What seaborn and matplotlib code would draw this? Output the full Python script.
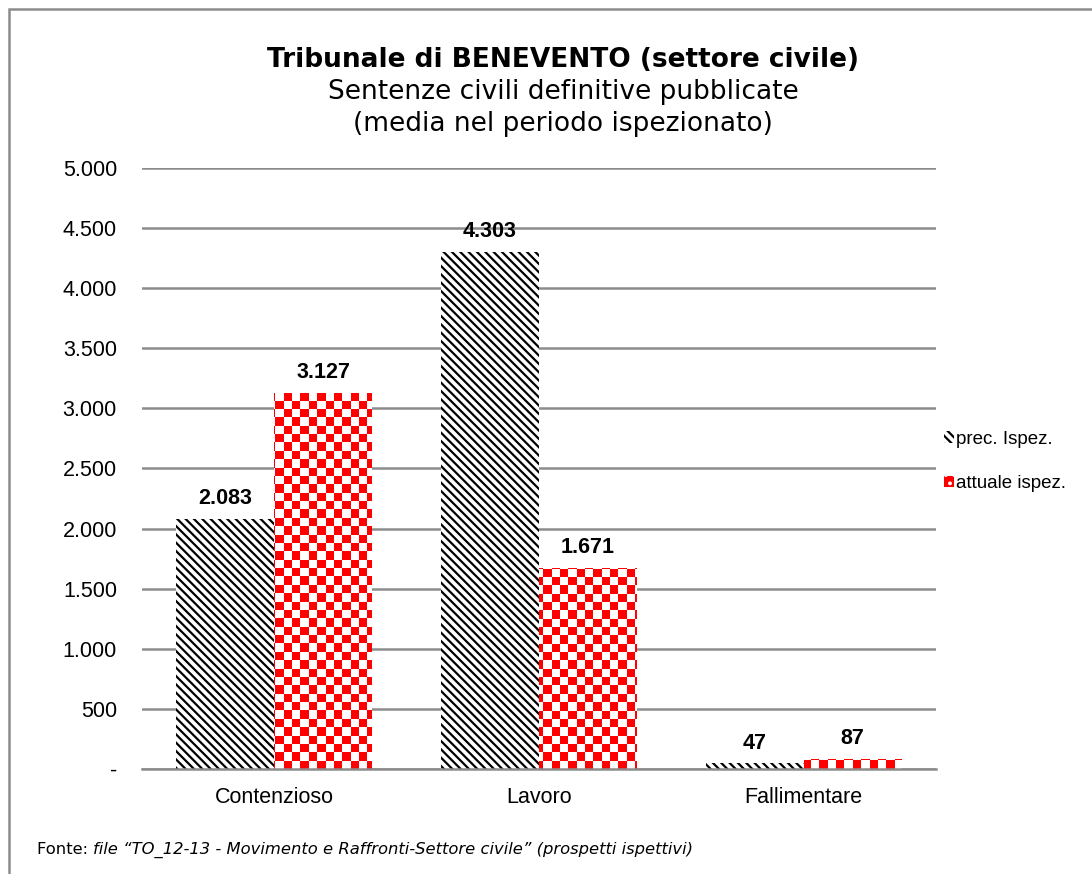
import numpy as np
import pandas as pd
import matplotlib
matplotlib.use('Agg')
import matplotlib.pyplot as plt
import seaborn as sns
from matplotlib.colors import ListedColormap
from matplotlib.patches import Patch, Rectangle

# data
categorie = ['Contenzioso', 'Lavoro', 'Fallimentare']
serie = ['prec. Ispez.', 'attuale ispez.']
prec_ispez = [2083, 4303, 47]
attuale_ispez = [3127, 1671, 87]
y_ticks = [0, 500, 1000, 1500, 2000, 2500, 3000, 3500, 4000, 4500, 5000]

df = pd.DataFrame({
    'categoria': categorie * 2,
    'serie': [serie[0]] * 3 + [serie[1]] * 3,
    'valore': prec_ispez + attuale_ispez,
})

sns.set_theme(style='white')
plt.rcParams['font.family'] = ['Liberation Sans', 'DejaVu Sans']
plt.rcParams['hatch.linewidth'] = 1.6
plt.rcParams['text.color'] = 'black'

fig = plt.figure(figsize=(10.92, 8.74), dpi=100)
ax = fig.add_axes([0.130, 0.120, 0.727, 0.688])

sns.barplot(data=df, x='categoria', y='valore', hue='serie', hue_order=serie,
            palette=['black', 'red'], width=0.74, ax=ax, legend=False,
            saturation=1)

ax.set_xlim(-0.5, 2.5)
ax.set_ylim(0, 5000)

# striped black bars
for bar in ax.containers[0]:
    bar.set_facecolor('white')
    bar.set_edgecolor('black')
    bar.set_hatch('\\\\\\\\')
    bar.set_linewidth(0)

# checkerboard red bars: one checker image clipped to each bar
nx, ny = 95, 72
checker = (np.add.outer(np.arange(ny), np.arange(nx)) % 2).astype(float)
cmap = ListedColormap(['white', 'red'])
for bar in ax.containers[1]:
    bar.set_facecolor('white')
    bar.set_linewidth(0)
    im = ax.imshow(checker, extent=(-0.5, 2.5, 0, 5000), origin='lower',
                   aspect='auto', interpolation='nearest', cmap=cmap,
                   zorder=bar.get_zorder() + 0.1)
    im.set_clip_path(bar)

ax.set_xlim(-0.5, 2.5)
ax.set_ylim(0, 5000)

# value labels
fmt = lambda v: f'{v:,}'.replace(',', '.')
for cont, vals in zip(ax.containers, [prec_ispez, attuale_ispez]):
    ax.bar_label(cont, labels=[fmt(v) for v in vals], padding=7,
                 fontsize=15.5, fontweight='bold', color='black')

# axes styling
ax.set_yticks(y_ticks)
ax.set_yticklabels(['-' if v == 0 else fmt(v) for v in y_ticks])
ax.yaxis.grid(True, color='#8c8c8c', linewidth=1.8)
ax.set_axisbelow(True)
for s in ['left', 'right', 'top']:
    ax.spines[s].set_visible(False)
ax.spines['bottom'].set_color('#8c8c8c')
ax.spines['bottom'].set_linewidth(1.8)
ax.tick_params(axis='y', length=0, pad=18, labelsize=15.5, colors='black')
ax.tick_params(axis='x', length=0, pad=13, labelsize=15.5, colors='black')
ax.set_xlabel('')
ax.set_ylabel('')

# legend
handles = [Patch(facecolor='white', edgecolor='black', hatch='\\\\\\\\', linewidth=0),
           Patch(facecolor='red', edgecolor='white', hatch='..', linewidth=0)]
fig.legend(handles, serie, loc='center left', bbox_to_anchor=(0.849, 0.472),
           frameon=False, fontsize=13.5, handlelength=0.55, handleheight=0.6,
           handletextpad=0.1, labelspacing=1.45)

# titles
fig.text(0.5156, 0.931, 'Tribunale di BENEVENTO (settore civile)',
         ha='center', va='center', fontsize=19, fontweight='bold',
         family='DejaVu Sans', color='black')
fig.text(0.5156, 0.895, 'Sentenze civili definitive pubblicate',
         ha='center', va='center', fontsize=19, family='DejaVu Sans', color='black')
fig.text(0.5156, 0.858, '(media nel periodo ispezionato)',
         ha='center', va='center', fontsize=19, family='DejaVu Sans', color='black')

# source note: "Fonte:" upright, rest italic
renderer = fig.canvas.get_renderer()
t1 = fig.text(37 / 1092, 1 - 850 / 874, 'Fonte: ', ha='left', va='center',
              fontsize=11.8, family='DejaVu Sans', color='black')
bb = t1.get_window_extent(renderer)
fig.text(bb.x1 / fig.bbox.width, 1 - 850 / 874,
         'file \u201cTO_12-13 - Movimento e Raffronti-Settore civile\u201d (prospetti ispettivi)',
         ha='left', va='center', fontsize=11.8, style='italic',
         family='DejaVu Sans', color='black')

# outer border of the chart area
fig.patches.append(Rectangle((9 / 1092, -0.1), 1.2, 1.1 - 9 / 874,
                             transform=fig.transFigure, fill=False,
                             edgecolor='#8c8c8c', linewidth=1.8))

fig.savefig('out.png', dpi=100)
